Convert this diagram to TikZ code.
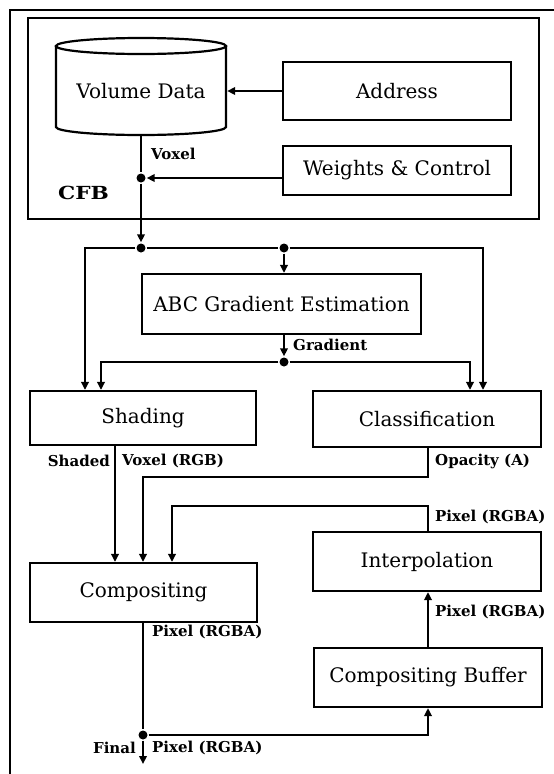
\documentclass[tikz,border=0pt]{standalone}
\usepackage{fontspec}
\setmainfont{DejaVu Serif}
\usetikzlibrary{arrows.meta}
\begin{document}
\begin{tikzpicture}[x=1pt,y=-1pt,
  line width=2.4pt,
  block/.style={draw, line width=2.2pt, minimum width=228pt, minimum height=58pt,
    inner sep=0pt, font=\fontsize{20}{23}\selectfont},
  lbl/.style={font=\bfseries\fontsize{15}{17}\selectfont, inner sep=0pt},
  arr/.style={-{Triangle[length=8pt,width=7.5pt]}},
  jdot/.style={circle, fill, inner sep=0pt, minimum size=9pt}
]
\useasboundingbox (0,0) rectangle (554,774);

% outer frame and CFB enclosure
\draw[line width=2.2pt] (554,10) -- (10,10) -- (10,774);
\draw[line width=2.6pt] (28,18) rectangle (539,219);
\node[font=\bfseries\fontsize{18}{20}\selectfont, anchor=west, inner sep=0pt] (cfb) at (57,193) {\scalebox{1.2}[1]{CFB}};

% volume data store (cylinder)
\draw[line width=2.2pt] (141,46) ellipse [x radius=85pt, y radius=8pt];
\draw[line width=2.2pt] (56,46) -- (56,127)
  arc[start angle=180, end angle=360, x radius=85pt, y radius=8pt] -- (226,46);
\node[minimum width=170pt, minimum height=60pt, inner sep=0pt,
  font=\fontsize{20}{23}\selectfont] (vol) at (141,91) {Volume Data};
\coordinate (volbot) at (141,135);

% blocks
\node[block] (addr) at (397,91) {Address};
\node[block, minimum height=49pt] (wc) at (397,170.5) {Weights \& Control};
\node[block, minimum width=279pt, minimum height=60pt] (abc) at (281.5,304) {ABC Gradient Estimation};
\node[block, minimum width=226pt, minimum height=54pt] (sh) at (143,418) {Shading};
\node[block, minimum height=56pt] (cl) at (427,419) {Classification};
\node[block, minimum width=227pt, minimum height=59pt] (comp) at (143.5,592.5) {Compositing};
\node[block, minimum height=59pt] (interp) at (427,561.5) {Interpolation};
\node[block, minimum height=59pt] (buf) at (428,677.5) {Compositing Buffer};

% junction dots
\node[jdot] (d1) at (141,178) {};
\node[jdot] (d2) at (141,248) {};
\node[jdot] (d3) at (284,248) {};
\node[jdot] (d4) at (284,362) {};
\node[jdot] (d5) at (143,735) {};

% column positions of the connectors
\coordinate (xa) at (85,0);
\coordinate (xb) at (101,0);
\coordinate (xc) at (470,0);
\coordinate (xd) at (483,0);
\coordinate (xs) at (115,0);
\coordinate (xo) at (428,0);
\coordinate (xq) at (143,0);
\coordinate (xr) at (172,0);
\coordinate (yo) at (0,477);
\coordinate (yi) at (0,506);
\coordinate (fin) at (143,764);

% CFB connectors
\draw[arr] (addr.west) -- (addr.west -| vol.east);
\draw[arr] (wc.west |- d1) -- (d1);
\draw (volbot) -- (d1);
\draw[arr] (d1) -- (d2);

% voxel distribution
\draw[arr] (d2) -| (sh.north -| xa);
\draw (d2) -- (d3);
\draw[arr] (d3) -| (cl.north -| xd);
\draw[arr] (d3) -- (abc.north -| d3);

% gradient distribution
\draw[arr] (abc.south -| d4) -- (d4);
\draw[arr] (d4) -| (sh.north -| xb);
\draw[arr] (d4) -| (cl.north -| xc);

% into compositing
\draw[arr] (sh.south -| xs) -- (comp.north -| xs);
\draw[arr] (cl.south -| xo) -- (xo |- yo) -| (comp.north -| xq);
\draw[arr] (interp.north -| xo) -- (xo |- yi) -| (comp.north -| xr);

% output and feedback loop
\draw (comp.south -| d5) -- (d5);
\draw[arr] (d5) -- (fin);
\draw[arr] (d5) -| (buf.south -| xo);
\draw[arr] (buf.north -| xo) -- (interp.south -| xo);

% signal labels
\node[lbl, anchor=west] at (150,154) {Voxel};
\node[lbl, anchor=west] at (292,345) {Gradient};
\node[lbl, anchor=east] at (111,461) {Shaded};
\node[lbl, anchor=west] at (121,461) {Voxel (RGB)};
\node[lbl, anchor=west] at (434,461) {Opacity (A)};
\node[lbl, anchor=west] at (434,517) {Pixel (RGBA)};
\node[lbl, anchor=west] at (434,612) {Pixel (RGBA)};
\node[lbl, anchor=west] at (151,632) {Pixel (RGBA)};
\node[lbl, anchor=east] at (137,748) {Final};
\node[lbl, anchor=west] at (151,748) {Pixel (RGBA)};
\end{tikzpicture}
\end{document}
